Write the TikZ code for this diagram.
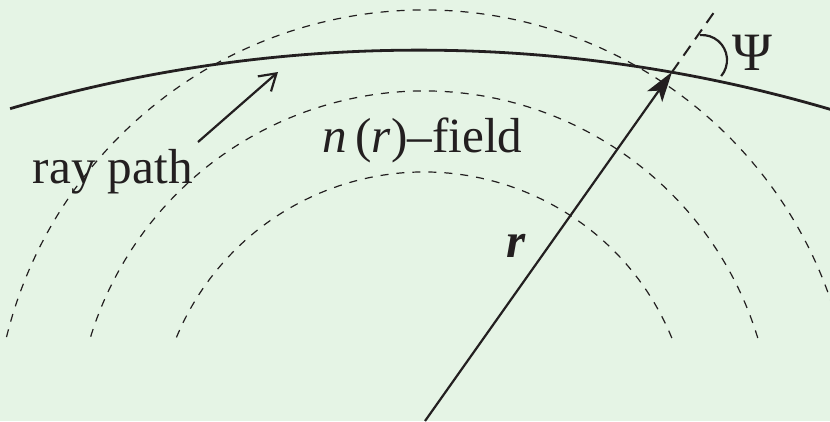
\documentclass[tikz,border=0pt]{standalone}
\usepackage{fontspec}
\setmainfont{Liberation Serif}
\usepackage{xcolor}
\usetikzlibrary{arrows.meta, calc, positioning}
\definecolor{bgfield}{RGB}{229,244,229}
\definecolor{ink}{RGB}{35,31,32}
\tikzstyle{arrow} = [line width=0.55pt,-{Stealth[length=7.5pt,width=4.6pt,inset=1.8pt]}]
\tikzstyle{pointer} = [line width=0.55pt,-{Straight Barb[length=4pt,width=5pt]}]
\tikzset{
  field/.style   = {line width=0.3pt, dash pattern=on 2pt off 2pt},
  extend/.style  = {line width=0.5pt, dash pattern=on 3pt off 2pt},
  raypath/.style = {line width=0.7pt},
  anglemark/.style = {line width=0.55pt},
  txt/.style     = {inner sep=0pt, font=\fontsize{12.3}{14}\selectfont}
}

\begin{document}
\begin{tikzpicture}[x=0.25pt, y=0.25pt, color=ink]
\fill[bgfield] (0,0) rectangle (830,421);
\useasboundingbox (0,0) rectangle (830,421);
\clip (0,0) rectangle (830,421);

% Levels of the n(r)-field
\coordinate (fc) at (424,-19);
\foreach \rad in {268,349,430} {
    \pgfmathsetmacro{\ang}{asin(102/\rad)}
    \draw[field] (fc) ++(\ang:\rad) arc[start angle=\ang, end angle=180-\ang, radius=\rad];
}

% Ray path
\coordinate (rc) at (419,-1086);
\draw[raypath] (rc) ++(106.3:1457) arc[start angle=106.3, end angle=73.6, radius=1457];

% Radius vector and its extension
\coordinate (origin) at (425,0);
\coordinate (cross) at (672,349);
\coordinate (beyond) at (717,413);
\draw[arrow] (origin) -- (cross);
\draw[extend] (cross) -- (beyond);

% Angle psi
\coordinate (pc) at (702,361);
\draw[anglemark] (pc) ++(95:25) arc[start angle=95, end angle=-40, radius=25];
\node[txt, font=\fontsize{13.5}{15}\selectfont] (psi) at (752,368) {Ψ};

% Labels
\node[txt, anchor=base west] (raylabel) at (32,238) {ray path};
\node[txt, anchor=base west] (fieldlabel) at (322,269) {\textit{n}\,(\textit{r})–field};
\node[txt, anchor=base] (rlabel) at (516,164) {\textbf{\textit{r}}};

\coordinate (raytail) at (198,279);
\coordinate (raytip) at (278,349);
\draw[pointer] (raytail) -- (raytip);
\end{tikzpicture}
\end{document}
